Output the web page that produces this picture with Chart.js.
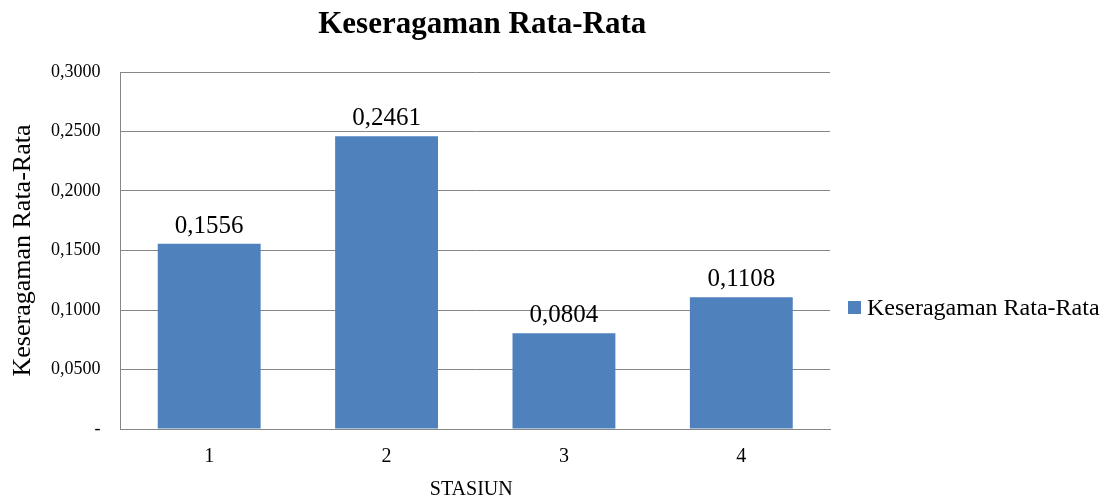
<!DOCTYPE html>
<html>
<head>
<meta charset="utf-8">
<script src="https://cdn.jsdelivr.net/npm/chart.js@4/dist/chart.umd.min.js"></script>
<style>
  html, body { margin: 0; padding: 0; background: #fff; }
  #wrap { width: 1105px; height: 500px; }
</style>
</head>
<body>
<div id="wrap"><canvas id="chart" width="1105" height="500"></canvas></div>
<script>
// Average uniformity per station
const stations = ['1', '2', '3', '4'];
const uniformity = [0.1556, 0.2461, 0.0804, 0.1108];
const yTicks = [0, 0.05, 0.1, 0.15, 0.2, 0.25, 0.3];

const seriesName = 'Keseragaman Rata-Rata';
const xAxisName = 'STASIUN';
const barColor = '#4F81BD';
const serif = '"Liberation Serif", "Times New Roman", serif';

function fmt(v) {
  return v.toFixed(4).replace('.', ',');
}

// Title, axis titles, value labels and legend drawn over the chart
const decorations = {
  id: 'decorations',
  afterDraw(chart) {
    const ctx = chart.ctx;
    const area = chart.chartArea;
    const midX = (area.left + area.right) / 2;
    ctx.save();

    // title
    ctx.fillStyle = '#000';
    ctx.font = 'bold 31px ' + serif;
    ctx.textAlign = 'center';
    ctx.textBaseline = 'middle';
    ctx.fillText(seriesName, midX + 7, 25);

    // axis titles
    ctx.font = '20px ' + serif;
    ctx.fillText(xAxisName, midX - 4, 490);
    ctx.save();
    ctx.translate(23, (area.top + area.bottom) / 2);
    ctx.rotate(-Math.PI / 2);
    ctx.font = '26px ' + serif;
    ctx.fillText(seriesName, 0, 0);
    ctx.restore();

    // value labels
    ctx.font = '25px ' + serif;
    ctx.textBaseline = 'bottom';
    const meta = chart.getDatasetMeta(0);
    meta.data.forEach((bar, i) => {
      ctx.fillText(fmt(uniformity[i]), bar.x, bar.y - 5);
    });

    // legend
    const lx = area.right + 18;
    const ly = 307;
    ctx.fillStyle = barColor;
    ctx.fillRect(lx, ly - 6, 13, 13);
    ctx.fillStyle = '#000';
    ctx.font = '24px ' + serif;
    ctx.textAlign = 'left';
    ctx.textBaseline = 'middle';
    ctx.fillText(seriesName, lx + 19, ly + 2);

    ctx.restore();
  }
};

new Chart(document.getElementById('chart'), {
  type: 'bar',
  data: {
    labels: stations,
    datasets: [{
      label: seriesName,
      data: uniformity,
      backgroundColor: barColor,
      categoryPercentage: 1,
      barPercentage: 0.58
    }]
  },
  options: {
    responsive: false,
    animation: false,
    layout: { padding: { top: 72, right: 275, left: 31, bottom: 23 } },
    plugins: {
      legend: { display: false },
      title: { display: false },
      tooltip: { enabled: false }
    },
    scales: {
      x: {
        grid: { display: false },
        border: { color: '#868686', width: 1 },
        ticks: { color: '#000', font: { family: serif, size: 20 }, padding: 8 }
      },
      y: {
        min: 0,
        max: 0.3,
        afterBuildTicks(axis) {
          axis.ticks = yTicks.map(v => ({ value: v }));
        },
        grid: { color: '#868686', lineWidth: 1, drawTicks: false },
        border: { color: '#868686', width: 1 },
        ticks: {
          color: '#000',
          font: { family: serif, size: 18 },
          padding: 20,
          callback: v => (v === 0 ? '-' : fmt(v))
        }
      }
    }
  },
  plugins: [decorations]
});
</script>
</body>
</html>
